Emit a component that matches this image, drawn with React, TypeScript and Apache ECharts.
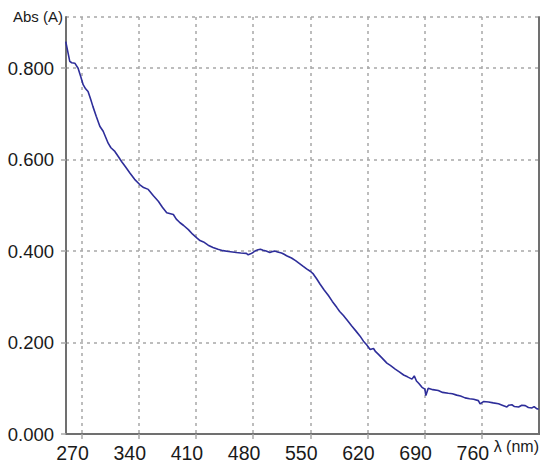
import React, { useEffect, useRef } from "react";
import * as echarts from "echarts";

const wavelengths: number[] = [
  250.7, 253, 255.6, 258, 261.8, 265.8, 269, 272, 275, 278, 281, 284, 288, 292.4, 296.5,
  302.6, 306, 310.8, 315, 319, 324, 329.2, 335, 341.5, 346, 351.7, 358, 364, 369, 374.3,
  382.4, 386, 390.6, 395, 400.8, 406, 411.1, 415, 419.3, 425, 430.9, 437, 443.2, 450,
  459.5, 465, 471.8, 474, 477, 480, 483, 486.1, 489, 492.3, 496, 500.5, 504, 506.6, 510,
  514.8, 518, 521, 527, 532, 537.3, 541, 545.5, 550, 553.7, 558, 561.9, 567, 572.2, 577,
  582.4, 586, 590.6, 596, 600.8, 606, 611, 615.1, 619, 623.3, 627.4, 630, 633.5, 638,
  643.8, 648, 654, 659, 664.3, 669, 674.5, 677.3, 680, 682.7, 686.8, 690.3, 691.5, 694.4,
  700, 706.7, 712, 719, 724, 729.2, 734, 739.5, 745, 750, 755.8, 757.9, 762, 768.2, 774,
  780.4, 785, 790.7, 793, 796.8, 800, 805, 809, 813.2, 817, 821.4, 824, 827.5, 829.5,
];

const absorbance: number[] = [
  0.858, 0.838, 0.815, 0.812, 0.811, 0.8, 0.782, 0.764, 0.755, 0.749, 0.733, 0.716, 0.695,
  0.673, 0.662, 0.636, 0.626, 0.618, 0.607, 0.596, 0.584, 0.571, 0.557, 0.545, 0.539, 0.535,
  0.521, 0.509, 0.496, 0.484, 0.48, 0.47, 0.462, 0.456, 0.447, 0.437, 0.429, 0.423, 0.42,
  0.413, 0.408, 0.404, 0.401, 0.399, 0.397, 0.396, 0.395, 0.392, 0.394, 0.397, 0.401, 0.403,
  0.404, 0.402, 0.4, 0.397, 0.399, 0.4, 0.398, 0.396, 0.393, 0.39, 0.385, 0.379, 0.372,
  0.367, 0.361, 0.356, 0.35, 0.339, 0.328, 0.315, 0.303, 0.29, 0.277, 0.268, 0.259, 0.247,
  0.236, 0.225, 0.214, 0.203, 0.195, 0.185, 0.187, 0.18, 0.174, 0.166, 0.155, 0.15, 0.142,
  0.136, 0.129, 0.125, 0.12, 0.127, 0.116, 0.111, 0.102, 0.098, 0.084, 0.1, 0.097, 0.095,
  0.091, 0.089, 0.088, 0.085, 0.083, 0.079, 0.077, 0.076, 0.073, 0.066, 0.071, 0.07, 0.068,
  0.066, 0.063, 0.059, 0.063, 0.064, 0.06, 0.059, 0.063, 0.062, 0.058, 0.057, 0.06, 0.055,
  0.054,
];

const xTicks: number[] = [270, 340, 410, 480, 550, 620, 690, 760];
const yTicks: number[] = [0, 0.2, 0.4, 0.6, 0.8];

const X_MIN = 251;
const X_MAX = 830;
const Y_MAX = 0.912;

export default function App() {
  const ref = useRef<HTMLDivElement>(null);

  useEffect(() => {
    document.body.style.margin = "0";
    if (!ref.current) return;
    const chart = echarts.init(ref.current, undefined, { renderer: "svg" });
    const font = "'Liberation Sans', Arial, sans-serif";
    const gridLine = { show: true, lineStyle: { color: "#a8a8a8", width: 1.5, type: [3, 4] as any } };
    const frameLine = { show: true, lineStyle: { color: "#707070", width: 2 } };

    chart.setOption({
      animation: false,
      backgroundColor: "#ffffff",
      grid: { left: 66, right: 11, top: 17, bottom: 38, containLabel: false },
      xAxis: [
        {
          type: "value",
          min: X_MIN,
          max: X_MAX,
          axisLine: { show: true, lineStyle: { color: "#555", width: 2, type: [4, 3] as any } },
          axisTick: { show: true, length: 5, customValues: xTicks, lineStyle: { color: "#a8a8a8", width: 1.5 } },
          axisLabel: {
            customValues: xTicks,
            fontFamily: font,
            fontSize: 19.5,
            color: "#1a1a1a",
            margin: 9,
            padding: [0, 18, 0, 0],
          },
          splitLine: gridLine,
        },
        {
          type: "value",
          position: "top",
          min: X_MIN,
          max: X_MAX,
          axisLine: frameLine,
          axisTick: { show: false },
          axisLabel: { show: false },
          splitLine: { show: false },
        },
      ],
      yAxis: [
        {
          type: "value",
          min: 0,
          max: Y_MAX,
          interval: 0.2,
          axisLine: frameLine,
          axisTick: { show: true, length: 5, lineStyle: { color: "#a8a8a8", width: 1.5 } },
          axisLabel: {
            fontFamily: font,
            fontSize: 18.5,
            color: "#1a1a1a",
            margin: 12,
            showMaxLabel: false,
            formatter: (v: number) => (yTicks.some((t) => Math.abs(t - v) < 1e-6) ? v.toFixed(3) : ""),
          },
          splitLine: gridLine,
        },
        {
          type: "value",
          position: "right",
          min: 0,
          max: Y_MAX,
          axisLine: frameLine,
          axisTick: { show: false },
          axisLabel: { show: false },
          splitLine: { show: false },
        },
      ],
      graphic: [
        {
          type: "text",
          right: 550 - 63,
          top: 9,
          style: { text: "Abs (A)", fontFamily: font, fontSize: 15, fill: "#1a1a1a" },
        },
        {
          type: "text",
          right: 11,
          top: 438,
          style: { text: "λ (nm)", fontFamily: font, fontSize: 16, fill: "#1a1a1a" },
        },
      ],
      series: [
        {
          type: "line",
          data: wavelengths.map((w, i) => [w, absorbance[i]]),
          showSymbol: false,
          lineStyle: { color: "#2e2e9a", width: 1.6 },
          xAxisIndex: 0,
          yAxisIndex: 0,
        },
      ],
    });
    return () => chart.dispose();
  }, []);

  return <div ref={ref} style={{ width: 550, height: 472 }} />;
}
